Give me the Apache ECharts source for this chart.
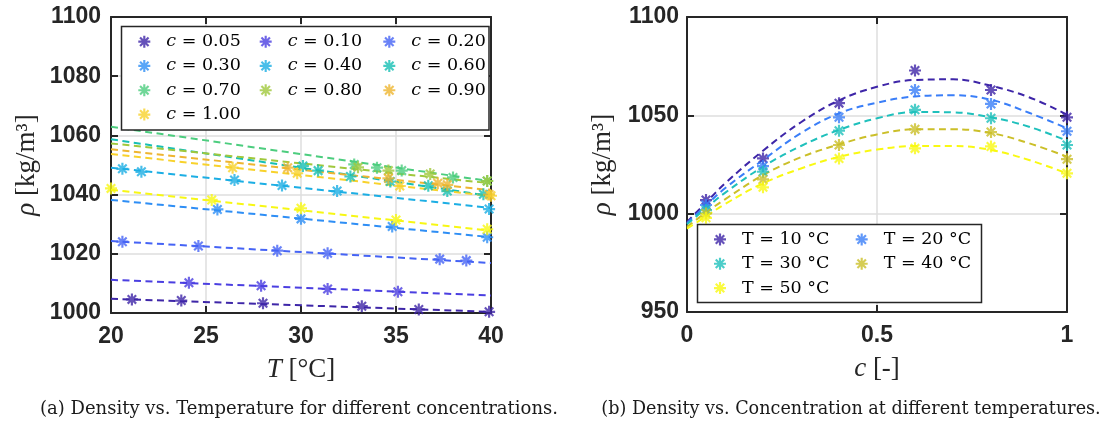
<!DOCTYPE html>
<html><head><meta charset="utf-8">
<script src="https://cdn.jsdelivr.net/npm/echarts@6/dist/echarts.min.js"></script>
<style>html,body{margin:0;padding:0;background:#fff}#c{width:1104px;height:424px}</style>
</head><body><div id="c"></div>
<script>
// ---------- Left panel: density vs temperature ----------
const leftNames = ['c = 0.05','c = 0.10','c = 0.20','c = 0.30','c = 0.40','c = 0.60','c = 0.70','c = 0.80','c = 0.90','c = 1.00','c = 1.00 (extra)'];
const leftColors = ['#3e26a8','#4b3fe1','#4563f5','#2e8ef5','#1caee4','#17bfb4','#4ccd7e','#a0c83c','#eeb530','#f8d22c','#f7f714'];
const c005 = [[21.1,1004.6],[23.7,1004.2],[28.0,1003.3],[33.2,1002.3],[36.2,1001.2],[39.9,1000.4]];
const c010 = [[24.1,1010.2],[27.9,1009.2],[31.4,1008.1],[35.1,1007.2]];
const c020 = [[20.6,1024.1],[24.6,1022.6],[28.75,1021.05],[31.4,1020.2],[37.3,1018.2],[38.7,1017.7]];
const c030 = [[25.6,1035.0],[30.0,1031.8],[34.8,1029.2],[39.8,1025.6]];
const c040 = [[20.6,1048.7],[21.6,1047.7],[26.5,1044.9],[29.0,1043.1],[31.9,1041.2],[39.9,1035.1]];
const c060 = [[30.1,1049.7],[30.9,1048.1],[32.6,1046.1],[34.7,1044.4],[36.7,1043.0],[37.7,1041.2],[39.6,1040.1]];
const c070 = [[32.8,1050.2],[34.0,1049.1],[35.3,1048.1],[38.0,1045.8],[39.8,1044.6]];
const c080 = [[33.0,1049.2],[34.6,1048.1],[36.8,1047.0],[39.8,1044.6]];
const c090 = [[29.3,1049.1],[34.6,1045.5],[37.2,1043.8],[37.7,1043.3],[39.9,1040.0]];
const c100 = [[26.4,1049.1],[29.8,1047.2],[35.2,1042.9],[40.0,1039.6]];
const cExtra = [[20.0,1042.1],[25.3,1038.2],[30.0,1035.4],[35.0,1031.4],[39.8,1028.3]];
const leftPoints = [c005,c010,c020,c030,c040,c060,c070,c080,c090,c100,cExtra];
const fitT = [20, 40];
const fitAt20 = [1004.8,1011.2,1024.3,1038.2,1049.1,1058.7,1062.9,1057.3,1055.3,1053.7,1041.6];
const fitAt40 = [1000.4,1005.9,1016.9,1025.6,1035.5,1039.5,1044.5,1043.8,1041.5,1039.5,1027.8];

// ---------- Right panel: density vs concentration ----------
const rightNames = ['T = 10 °C','T = 20 °C','T = 30 °C','T = 40 °C','T = 50 °C'];
const rightColors = ['#3e26a8','#3a7ef8','#1fc0bc','#cbbf29','#f9f912'];
const cMeas = [0.05,0.2,0.4,0.6,0.8,1.0];
const rhoT10 = [1006.9,1028.1,1056.2,1072.8,1062.9,1049.0];
const rhoT20 = [1004.4,1024.2,1049.0,1062.9,1055.8,1041.9];
const rhoT30 = [1001.8,1021.3,1042.2,1052.8,1048.5,1034.9];
const rhoT40 = [1000.1,1017.4,1034.9,1042.9,1041.5,1027.7];
const rhoT50 = [997.9,1013.4,1028.1,1033.2,1034.2,1020.5];
const rightMeas = [rhoT10,rhoT20,rhoT30,rhoT40,rhoT50];
const cCurve = [0,0.05,0.1,0.2,0.3,0.4,0.5,0.6,0.7,0.8,0.9,1.0];
const fitT10 = [995.8,1005.6,1015.4,1032.0,1046.5,1057.6,1064.5,1068.0,1068.3,1065.0,1059.2,1050.4];
const fitT20 = [995.2,1004.2,1012.9,1027.3,1041.0,1051.0,1056.4,1059.6,1060.2,1057.9,1051.3,1043.4];
const fitT30 = [994.6,1002.8,1010.6,1023.9,1034.4,1042.6,1048.5,1051.7,1051.5,1049.0,1044.2,1037.1];
const fitT40 = [993.3,1000.6,1007.3,1019.6,1028.7,1035.2,1040.3,1042.9,1042.9,1041.0,1035.8,1029.0];
const fitT50 = [992.4,998.6,1004.9,1015.4,1023.0,1028.9,1032.6,1034.4,1034.4,1032.4,1027.3,1020.5];
const rightCurves = [fitT10,fitT20,fitT30,fitT40,fitT50];

// ---------- ticks ----------
const leftX = {min:20, max:40, interval:5};
const leftY = {min:1000, max:1100, interval:20};
const rightX = {min:0, max:1, interval:0.5};
const rightY = {min:950, max:1100, interval:50};

const STAR = 'path://M0 8.2H20V11.8H0Z M8.2 0H11.8V20H8.2Z M4.2 1.66L18.34 15.8L15.8 18.34L1.66 4.2Z M18.34 4.2L4.2 18.34L1.66 15.8L15.8 1.66Z';
const INK = '#262626';
const SERIF = 'Liberation Serif';
const SERIF2 = 'DejaVu Serif';
const SANS = 'Liberation Sans';

function mainAxis(grid, rng, pos, margin, name, nameGap, split){
  return {
    gridIndex: grid, type:'value', min:rng.min, max:rng.max, interval:rng.interval, position:pos,
    axisLine:{show:true, onZero:false, lineStyle:{color:INK, width:2}},
    axisTick:{show:true, inside:true, length:7, lineStyle:{color:INK, width:2}},
    axisLabel:{show:true, margin:margin, fontFamily:SANS, fontWeight:'bold', fontSize:23, color:INK,
      formatter: v => String(v)},
    splitLine:{show:split, lineStyle:{color:'#dedede', width:1.5}},
    name:name, nameLocation:'middle', nameGap:nameGap,
    nameTextStyle:{fontFamily:SERIF, fontSize:27, color:INK, rich:{i:{fontFamily:SERIF, fontSize:27, fontStyle:'italic', color:INK}}}
  };
}
function boxAxis(grid, rng, pos){
  return {
    gridIndex: grid, type:'value', min:rng.min, max:rng.max, interval:rng.interval, position:pos,
    axisLine:{show:true, onZero:false, lineStyle:{color:INK, width:2}},
    axisTick:{show:true, inside:true, length:7, lineStyle:{color:INK, width:2}},
    axisLabel:{show:false}, splitLine:{show:false}
  };
}

const series = [];
leftPoints.forEach((pts, i) => {
  series.push({type:'line', name: leftNames[i] + ' fit', xAxisIndex:0, yAxisIndex:0,
    data: [[fitT[0], fitAt20[i]], [fitT[1], fitAt40[i]]],
    showSymbol:false, symbol:'none', silent:true, z:2,
    lineStyle:{color:leftColors[i], width:2, type:[7,4.5]}});
});
leftPoints.forEach((pts, i) => {
  series.push({type:'scatter', name: leftNames[i], xAxisIndex:0, yAxisIndex:0,
    data: pts, symbol: STAR, symbolSize: 12, silent:true, z:3,
    itemStyle:{color:leftColors[i]}});
});
rightCurves.forEach((vals, i) => {
  series.push({type:'line', name: rightNames[i] + ' fit', xAxisIndex:2, yAxisIndex:2,
    data: cCurve.map((c, k) => [c, vals[k]]), smooth:0.4,
    showSymbol:false, symbol:'none', silent:true, z:2,
    lineStyle:{color:rightColors[i], width:2, type:[7,4.5]}});
});
rightMeas.forEach((vals, i) => {
  series.push({type:'scatter', name: rightNames[i], xAxisIndex:2, yAxisIndex:2,
    data: cMeas.map((c, k) => [c, vals[k]]), symbol: STAR, symbolSize: 12, silent:true, z:3,
    itemStyle:{color:rightColors[i]}});
});

function legendCol(left, top, names, italic){
  return {
    orient:'vertical', left:left, top:top, padding:0, itemGap:0,
    itemWidth:12, itemHeight:12, selectedMode:false, z:5,
    data: names.map(n => ({name:n, icon:STAR})),
    formatter: italic ? (n => '{i|c}' + n.slice(1)) : (n => n),
    textStyle:{fontFamily:SERIF2, fontSize:17.5, color:'#000', lineHeight:24.3, padding:[0,0,0,11],
      rich:{i:{fontFamily:SERIF2, fontSize:17.5, fontStyle:'italic', color:'#000', lineHeight:24.3}}}
  };
}

const option = {
  animation:false,
  backgroundColor:'#fff',
  grid:[
    {left:111, top:17, width:380, height:296, containLabel:false},
    {left:687, top:17, width:380, height:295, containLabel:false}
  ],
  xAxis:[
    mainAxis(0, leftX, 'bottom', 12, '{i|T} [°C]', 43, true),
    boxAxis(0, leftX, 'top'),
    mainAxis(1, rightX, 'bottom', 12, '{i|c} [-]', 43, true),
    boxAxis(1, rightX, 'top')
  ],
  yAxis:[
    mainAxis(0, leftY, 'left', 10, '{i|ρ} [kg/m³]', 71, true),
    boxAxis(0, leftY, 'right'),
    mainAxis(1, rightY, 'left', 8, '{i|ρ} [kg/m³]', 71, true),
    boxAxis(1, rightY, 'right')
  ],
  legend:[
    legendCol(138.3, 29.5, ['c = 0.05','c = 0.30','c = 0.70','c = 1.00'], true),
    legendCol(259.7, 29.5, ['c = 0.10','c = 0.40','c = 0.80'], true),
    legendCol(383.3, 29.5, ['c = 0.20','c = 0.60','c = 0.90'], true),
    legendCol(714, 227.3, ['T = 10 °C','T = 30 °C','T = 50 °C'], false),
    legendCol(855.7, 227.3, ['T = 20 °C','T = 40 °C'], false)
  ],
  graphic:[
    {type:'rect', z:4, shape:{x:121.5, y:26.5, width:367.5, height:103.5}, style:{fill:'#fff', stroke:INK, lineWidth:1.5}},
    {type:'rect', z:4, shape:{x:697.5, y:224.5, width:284, height:78}, style:{fill:'#fff', stroke:INK, lineWidth:1.5}},
    {type:'text', x:299, y:409, style:{text:'(a) Density vs. Temperature for different concentrations.', align:'center', verticalAlign:'middle', fontFamily:SERIF2, fontSize:18, fill:'#1a1a1a'}},
    {type:'text', x:851, y:409, style:{text:'(b) Density vs. Concentration at different temperatures.', align:'center', verticalAlign:'middle', fontFamily:SERIF2, fontSize:17.6, fill:'#1a1a1a'}}
  ],
  series: series
};
const chart = echarts.init(document.getElementById('c'), null, {renderer:'canvas'});
chart.setOption(option);
</script>
</body></html>
